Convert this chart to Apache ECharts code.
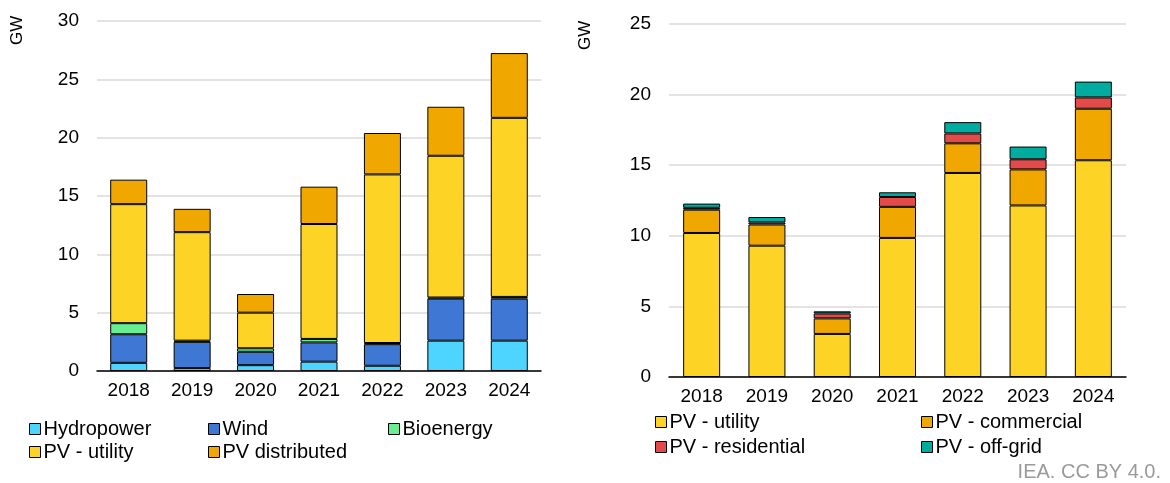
<!DOCTYPE html>
<html lang="en">
<head>
    <meta charset="utf-8">
    <title>Capacity additions</title>
    <script src="https://cdn.jsdelivr.net/npm/echarts@6/dist/echarts.min.js"></script>
    <style>
        html, body { margin: 0; padding: 0; background: #fff; }
        #main { width: 1170px; height: 483px; }
    </style>
</head>
<body>
    <div id="main"></div>
    <script>
        // data (GW)
        var years = ['2018', '2019', '2020', '2021', '2022', '2023', '2024'];

        // left panel
        var hydro     = [0.7, 0.25, 0.5, 0.8, 0.45, 2.6, 2.6];
        var wind      = [2.45, 2.25, 1.15, 1.65, 1.85, 3.6, 3.6];
        var bio       = [0.95, 0.1, 0.3, 0.3, 0.1, 0.1, 0.15];
        var pvUtilL   = [10.2, 9.3, 3.05, 9.85, 14.45, 12.15, 15.35];
        var pvDist    = [2.1, 2.0, 1.6, 3.2, 3.55, 4.2, 5.55];

        // right panel
        var pvUtil    = [10.2, 9.3, 3.05, 9.85, 14.45, 12.15, 15.35];
        var pvComm    = [1.65, 1.5, 1.1, 2.2, 2.1, 2.55, 3.65];
        var pvRes     = [0.13, 0.15, 0.35, 0.7, 0.7, 0.72, 0.8];
        var pvOff     = [0.3, 0.38, 0.15, 0.33, 0.8, 0.9, 1.12];

        var leftTicks = [0, 5, 10, 15, 20, 25, 30];
        var rightTicks = [0, 5, 10, 15, 20, 25];

        var C = {
            hydro: '#4DD4FF', wind: '#3E78D4', bio: '#66EE91',
            util: '#FDD326', dist: '#F0A800', res: '#E34B4B', off: '#00AC9F'
        };
        var FS = 19;      // axis labels
        var LFS = 20;     // legend / source
        var FONT = 'Liberation Sans, Arial, sans-serif';

        var chart = echarts.init(document.getElementById('main'));

        function bar(name, data, color, idx) {
            return {
                name: name,
                type: 'bar',
                stack: 'g' + idx,
                xAxisIndex: idx,
                yAxisIndex: idx,
                barWidth: 37,
                data: data,
                itemStyle: { color: color, borderColor: '#000', borderWidth: 1 },
                emphasis: { disabled: true }
            };
        }

        function xAx(idx) {
            return {
                type: 'category', gridIndex: idx, data: years,
                axisLine: { lineStyle: { color: '#000', width: 1.5 } },
                axisTick: { length: 5, lineStyle: { color: '#000', width: 1.5 } },
                axisLabel: { color: '#000', fontSize: FS, fontFamily: FONT, margin: 10 }
            };
        }

        function yAx(idx, ticks) {
            return {
                type: 'value', gridIndex: idx,
                min: ticks[0], max: ticks[ticks.length - 1], interval: ticks[1] - ticks[0],
                axisLine: { show: false }, axisTick: { show: false },
                axisLabel: { color: '#000', fontSize: FS, fontFamily: FONT, margin: 18 },
                splitLine: { lineStyle: { color: '#dadada', width: 1.5 } }
            };
        }

        // one legend per entry so columns line up like the original
        var legendSpots = [
            ['Hydropower', 29, 419], ['Wind', 208, 419], ['Bioenergy', 388, 419],
            ['PV - utility', 29, 442], ['PV distributed', 208, 442],
            ['PV - utility ', 655, 412], ['PV - commercial', 921, 412],
            ['PV - residential', 655, 437], ['PV - off-grid', 921, 437]
        ];
        var legends = legendSpots.map(function (s) {
            return {
                data: [s[0]], left: s[1], top: s[2], padding: 0,
                icon: 'rect', itemWidth: 11, itemHeight: 11,
                selectedMode: false,
                itemStyle: { borderColor: '#000', borderWidth: 1 },
                textStyle: { color: '#000', fontSize: LFS, fontFamily: FONT, padding: [0, 0, 0, -2] }
            };
        });

        var option = {
            animation: false,
            textStyle: { fontFamily: FONT },
            grid: [
                { left: 97, top: 21, width: 444, height: 350 },
                { left: 669, top: 24, width: 457, height: 353 }
            ],
            xAxis: [xAx(0), xAx(1)],
            yAxis: [yAx(0, leftTicks), yAx(1, rightTicks)],
            legend: legends,
            series: [
                bar('Hydropower', hydro, C.hydro, 0),
                bar('Wind', wind, C.wind, 0),
                bar('Bioenergy', bio, C.bio, 0),
                bar('PV - utility', pvUtilL, C.util, 0),
                bar('PV distributed', pvDist, C.dist, 0),
                bar('PV - utility ', pvUtil, C.util, 1),
                bar('PV - commercial', pvComm, C.dist, 1),
                bar('PV - residential', pvRes, C.res, 1),
                bar('PV - off-grid', pvOff, C.off, 1)
            ],
            graphic: [
                { type: 'text', x: 9, y: 45, rotation: Math.PI / 2,
                  style: { text: 'GW', fontSize: 17, fontFamily: FONT, fill: '#000' } },
                { type: 'text', x: 577, y: 50, rotation: Math.PI / 2,
                  style: { text: 'GW', fontSize: 17, fontFamily: FONT, fill: '#000' } },
                { type: 'text', right: 9, top: 462,
                  style: { text: 'IEA. CC BY 4.0.', fontSize: LFS, fontFamily: FONT, fill: '#9a9a9a' } }
            ]
        };

        chart.setOption(option);
    </script>
</body>
</html>
